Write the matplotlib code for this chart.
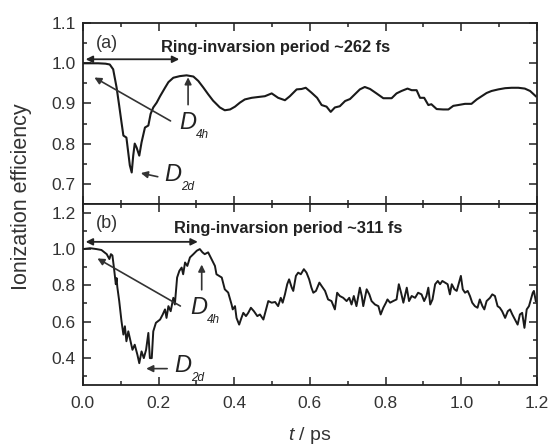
import numpy as np
import matplotlib
matplotlib.use('Agg')
import matplotlib.pyplot as plt
from matplotlib.ticker import MultipleLocator

plt.rcParams['font.family'] = ['Liberation Sans', 'DejaVu Sans']
plt.rcParams['mathtext.fontset'] = 'custom'
plt.rcParams['mathtext.it'] = 'Liberation Sans:italic'
plt.rcParams['mathtext.rm'] = 'Liberation Sans'

# panel (a): time in ps, ionization efficiency
t_a = [0.0, 0.02, 0.04, 0.06, 0.071, 0.08, 0.089, 0.096, 0.102, 0.107, 0.115,
       0.124, 0.129, 0.133, 0.137, 0.142, 0.149, 0.155, 0.164, 0.173, 0.179,
       0.186, 0.195, 0.204, 0.217, 0.226, 0.239, 0.256, 0.274, 0.292, 0.305,
       0.318, 0.331, 0.344, 0.362, 0.375, 0.389, 0.402, 0.415, 0.428, 0.446,
       0.463, 0.481, 0.499, 0.516, 0.534, 0.547, 0.565, 0.578, 0.589, 0.604,
       0.619, 0.631, 0.644, 0.655, 0.666, 0.679, 0.693, 0.706, 0.719, 0.732,
       0.745, 0.759, 0.776, 0.794, 0.816, 0.829, 0.842, 0.858, 0.869, 0.882,
       0.891, 0.902, 0.913, 0.921, 0.935, 0.952, 0.966, 0.979, 0.992, 1.01,
       1.027, 1.041, 1.054, 1.067, 1.080, 1.098, 1.116, 1.133, 1.151, 1.168,
       1.182, 1.197]
eff_a = [1.0, 1.0, 1.0, 0.999, 0.997, 0.985, 0.94, 0.894, 0.853, 0.82, 0.815,
         0.746, 0.728, 0.77, 0.80, 0.79, 0.77, 0.803, 0.84, 0.845, 0.874,
         0.89, 0.902, 0.918, 0.939, 0.953, 0.964, 0.968, 0.970, 0.967, 0.956,
         0.940, 0.923, 0.907, 0.89, 0.883, 0.885, 0.892, 0.902, 0.910, 0.914,
         0.916, 0.918, 0.925, 0.914, 0.908, 0.918, 0.935, 0.936, 0.939, 0.927,
         0.914, 0.896, 0.892, 0.879, 0.89, 0.893, 0.906, 0.911, 0.923, 0.935,
         0.941, 0.936, 0.925, 0.913, 0.913, 0.925, 0.931, 0.937, 0.933, 0.933,
         0.914, 0.914, 0.896, 0.898, 0.886, 0.885, 0.885, 0.894, 0.896, 0.899,
         0.899, 0.910, 0.918, 0.926, 0.931, 0.935, 0.938, 0.939, 0.939, 0.937,
         0.931, 0.918]

# panel (b)
t_b = [0.0, 0.019, 0.036, 0.049, 0.063, 0.07, 0.074, 0.078, 0.082, 0.087,
       0.089, 0.091, 0.096, 0.102, 0.107, 0.111, 0.115, 0.12, 0.124, 0.131,
       0.137, 0.144, 0.149, 0.155, 0.161, 0.167, 0.173, 0.177, 0.182, 0.186,
       0.193, 0.204, 0.211, 0.217, 0.221, 0.226, 0.232, 0.239, 0.243, 0.249,
       0.255, 0.261, 0.265, 0.27, 0.276, 0.283, 0.292, 0.301, 0.309, 0.316,
       0.322, 0.331, 0.34, 0.349, 0.353, 0.36, 0.367, 0.375, 0.384, 0.393,
       0.396, 0.402, 0.406, 0.413, 0.419, 0.424, 0.431, 0.437, 0.444, 0.452,
       0.461, 0.468, 0.477, 0.484, 0.49, 0.499, 0.508, 0.516, 0.523, 0.528,
       0.534, 0.54, 0.545, 0.552, 0.556, 0.563, 0.569, 0.576, 0.584, 0.591,
       0.598, 0.604, 0.609, 0.616, 0.625, 0.631, 0.64, 0.648, 0.657, 0.666,
       0.672, 0.679, 0.688, 0.697, 0.704, 0.71, 0.716, 0.723, 0.732, 0.737,
       0.741, 0.75, 0.757, 0.763, 0.772, 0.781, 0.787, 0.794, 0.801, 0.805,
       0.812, 0.82, 0.829, 0.835, 0.841, 0.847, 0.856, 0.862, 0.869, 0.878,
       0.886, 0.895, 0.902, 0.908, 0.913, 0.918, 0.924, 0.931, 0.938, 0.944,
       0.95, 0.957, 0.964, 0.97, 0.975, 0.982, 0.988, 0.994, 0.999, 1.004,
       1.01, 1.017, 1.023, 1.029, 1.036, 1.043, 1.049, 1.056, 1.061, 1.067,
       1.076, 1.082, 1.089, 1.096, 1.102, 1.108, 1.116, 1.123, 1.129, 1.135,
       1.142, 1.149, 1.155, 1.161, 1.167, 1.173, 1.179, 1.184, 1.189, 1.192,
       1.197]
eff_b = [1.0, 1.005, 1.0, 0.995, 0.972, 0.945, 0.972, 0.965, 0.898, 0.806,
         0.84, 0.79, 0.713, 0.602, 0.528, 0.574, 0.491, 0.546, 0.509, 0.444,
         0.472, 0.417, 0.37, 0.435, 0.398, 0.444, 0.537, 0.398, 0.398, 0.546,
         0.593, 0.611, 0.639, 0.667, 0.62, 0.685, 0.657, 0.731, 0.694, 0.843,
         0.88, 0.898, 0.861, 0.926, 0.907, 0.954, 0.972, 0.991, 1.0, 0.982,
         0.972, 0.982, 0.945, 0.907, 0.861, 0.852, 0.843, 0.778, 0.76, 0.694,
         0.667, 0.685, 0.62, 0.583, 0.62, 0.648, 0.63, 0.648, 0.676, 0.657,
         0.63, 0.639, 0.611, 0.667, 0.713, 0.704, 0.708, 0.685, 0.731, 0.704,
         0.75, 0.806, 0.833, 0.787, 0.769, 0.852, 0.87, 0.861, 0.889, 0.87,
         0.833, 0.787, 0.759, 0.769, 0.815, 0.796, 0.769, 0.722, 0.713, 0.667,
         0.759, 0.741, 0.731, 0.713, 0.731, 0.694, 0.741, 0.685, 0.787, 0.741,
         0.685, 0.778, 0.75, 0.713, 0.694, 0.685, 0.639, 0.676, 0.704, 0.722,
         0.704, 0.713, 0.722, 0.806, 0.759, 0.704, 0.787, 0.713, 0.741, 0.731,
         0.759, 0.75, 0.713, 0.741, 0.787, 0.694, 0.722, 0.806, 0.824, 0.806,
         0.824, 0.815, 0.806, 0.75, 0.806, 0.778, 0.769, 0.815, 0.852, 0.778,
         0.759, 0.769, 0.741, 0.704, 0.685, 0.676, 0.722, 0.685, 0.667, 0.713,
         0.731, 0.75, 0.741, 0.685, 0.676, 0.657, 0.62, 0.657, 0.667, 0.639,
         0.611, 0.583, 0.639, 0.648, 0.565, 0.667, 0.685, 0.722, 0.759, 0.769,
         0.713]

periods = [0.262, 0.311]
labels = ['(a)', '(b)']

fig = plt.figure(figsize=(5.49, 4.45), dpi=100)
ax_a = fig.add_axes([0.151, 0.542, 0.827, 0.406])
ax_b = fig.add_axes([0.151, 0.135, 0.827, 0.407])

dark = '#222222'
for ax in (ax_a, ax_b):
    ax.set_xlim(0, 1.2)
    ax.xaxis.set_major_locator(MultipleLocator(0.2))
    ax.xaxis.set_minor_locator(MultipleLocator(0.1))
    ax.tick_params(which='both', direction='in', top=True, right=True,
                   colors=dark, labelcolor='#333333', labelsize=12.5, width=1.1)
    ax.tick_params(which='major', length=6)
    ax.tick_params(which='minor', length=3)
    ax.tick_params(axis='y', pad=5)
    ax.tick_params(axis='x', pad=8)
    for sp in ax.spines.values():
        sp.set_linewidth(1.3)
        sp.set_color(dark)

ax_a.plot(t_a, eff_a, color='#1a1a1a', lw=1.5)
ax_a.set_ylim(0.65, 1.1)
ax_a.set_yticks([0.7, 0.8, 0.9, 1.0, 1.1])
ax_a.yaxis.set_minor_locator(MultipleLocator(0.05))
ax_a.tick_params(axis='x', labelbottom=False)

ax_b.plot(t_b, eff_b, color='#1a1a1a', lw=1.4)
ax_b.set_ylim(0.25, 1.25)
ax_b.set_yticks([0.4, 0.6, 0.8, 1.0, 1.2])
ax_b.yaxis.set_minor_locator(MultipleLocator(0.1))

arrow_kw = dict(arrowstyle='-|>', color='#333333', lw=1.2, mutation_scale=10)
double_kw = dict(arrowstyle='<|-|>', color='#222222', lw=1.3, mutation_scale=10)


def group_label(ax, x, y, sub):
    # big italic D with a small italic subscript, as in the original figure
    ax.text(x, y, 'D', fontsize=17, style='italic', color='#222222', va='center')
    ax.annotate(sub, xy=(x, y), xytext=(12, -9), textcoords='offset points',
                fontsize=8.5, style='italic', color='#222222', va='center')


# panel (a) annotations
ax_a.text(0.035, 1.05, labels[0], fontsize=13, color='#333333', va='center')
ax_a.text(0.207, 1.04, 'Ring-invarsion period ~262 fs', fontsize=11.8,
          fontweight='bold', color='#222222', va='center')
ax_a.annotate('', xy=(0.0, 1.01), xytext=(periods[0], 1.01), arrowprops=double_kw)
ax_a.annotate('', xy=(0.024, 0.968), xytext=(0.238, 0.853), arrowprops=arrow_kw)
ax_a.annotate('', xy=(0.278, 0.972), xytext=(0.278, 0.89), arrowprops=arrow_kw)
group_label(ax_a, 0.255, 0.853, '4h')
ax_a.annotate('', xy=(0.146, 0.728), xytext=(0.205, 0.716), arrowprops=arrow_kw)
group_label(ax_a, 0.215, 0.722, '2d')

# panel (b) annotations
ax_b.text(0.035, 1.14, labels[1], fontsize=13, color='#333333', va='center')
ax_b.text(0.24, 1.115, 'Ring-invarsion period ~311 fs', fontsize=11.8,
          fontweight='bold', color='#222222', va='center')
ax_b.annotate('', xy=(0.0, 1.04), xytext=(periods[1], 1.04), arrowprops=double_kw)
ax_b.annotate('', xy=(0.032, 0.956), xytext=(0.264, 0.678), arrowprops=arrow_kw)
ax_b.annotate('', xy=(0.314, 0.93), xytext=(0.314, 0.76), arrowprops=arrow_kw)
group_label(ax_b, 0.285, 0.68, '4h')
ax_b.annotate('', xy=(0.16, 0.34), xytext=(0.23, 0.34), arrowprops=arrow_kw)
group_label(ax_b, 0.242, 0.355, '2d')

fig.text(0.04, 0.557, 'Ionization efficiency', rotation=90, fontsize=15.5,
         color='#333333', ha='center', va='center')
fig.text(0.565, 0.022, r'$t$ / ps', fontsize=14, color='#333333',
         ha='center', va='center')

fig.savefig('out.png', dpi=100)
